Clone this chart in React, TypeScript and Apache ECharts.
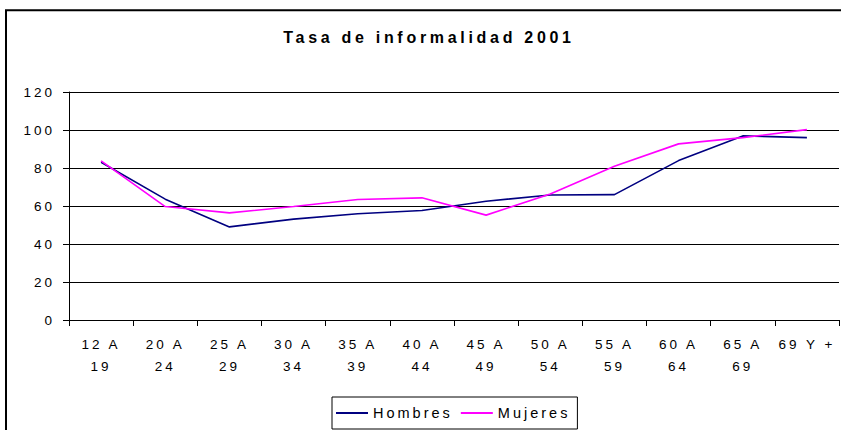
import React, { useEffect, useRef } from "react";
import * as echarts from "echarts";

const titleText = "Tasa de informalidad 2001";
const categories = [
  "12 A\n19",
  "20 A\n24",
  "25 A\n29",
  "30 A\n34",
  "35 A\n39",
  "40 A\n44",
  "45 A\n49",
  "50 A\n54",
  "55 A\n59",
  "60 A\n64",
  "65 A\n69",
  "69 Y +",
];
const hombres = [83.0, 63.6, 49.0, 53.1, 55.9, 57.6, 62.5, 65.8, 66.0, 83.9, 96.9, 96.0];
const mujeres = [83.7, 59.7, 56.4, 59.7, 63.4, 64.3, 55.2, 66.3, 80.9, 92.7, 96.0, 100.2];
const seriesNames = ["Hombres", "Mujeres"];
const yMin = 0;
const yMax = 120;
const yInterval = 20;

const FONT = "Arial, 'Liberation Sans', sans-serif";

export default function App() {
  const ref = useRef<HTMLDivElement>(null);

  useEffect(() => {
    document.body.style.margin = "0";
    if (!ref.current) return;
    const chart = echarts.init(ref.current, undefined, { renderer: "svg" });
    chart.setOption({
      animation: false,
      backgroundColor: "#fff",
      textStyle: { fontFamily: FONT, color: "#000" },
      title: {
        text: titleText,
        left: 424,
        top: 24,
        textAlign: "center",
        textStyle: { fontFamily: FONT, fontSize: 16, fontWeight: "bold", color: "#000" },
      },
      graphic: [
        {
          type: "rect",
          z: -10,
          silent: true,
          shape: { x: 6, y: 10.25, width: 900, height: 500 },
          style: { fill: "none", stroke: "#000", lineWidth: 2 },
        },
      ],
      legend: {
        data: seriesNames,
        left: 332,
        top: 397,
        orient: "horizontal",
        icon: "rect",
        itemWidth: 32,
        itemHeight: 2,
        itemGap: 29,
        padding: [8.5, 28, 8.5, 4],
        borderColor: "#000",
        borderWidth: 1,
        textStyle: { fontFamily: FONT, fontSize: 14.5, color: "#000" },
      },
      grid: { left: 69, right: 2, top: 92, bottom: 110, containLabel: false },
      xAxis: {
        type: "category",
        data: categories,
        boundaryGap: true,
        axisLine: { show: true, lineStyle: { color: "#000", width: 1 } },
        axisTick: { show: true, length: 6, inside: false, lineStyle: { color: "#000" } },
        axisLabel: {
          interval: 0,
          margin: 13,
          fontFamily: FONT,
          fontSize: 13.5,
          lineHeight: 22,
          color: "#000",
        },
        splitLine: { show: false },
      },
      yAxis: {
        type: "value",
        min: yMin,
        max: yMax,
        interval: yInterval,
        axisLine: { show: true, lineStyle: { color: "#000", width: 1 } },
        axisTick: { show: true, length: 6, inside: false, lineStyle: { color: "#000" } },
        axisLabel: { margin: 14, fontFamily: FONT, fontSize: 13.5, color: "#000" },
        splitLine: { show: true, lineStyle: { color: "#000", width: 1 } },
      },
      series: [
        {
          name: seriesNames[0],
          type: "line",
          data: hombres,
          symbol: "none",
          itemStyle: { color: "#000080" },
          lineStyle: { color: "#000080", width: 1.6 },
        },
        {
          name: seriesNames[1],
          type: "line",
          data: mujeres,
          symbol: "none",
          itemStyle: { color: "#FF00FF" },
          lineStyle: { color: "#FF00FF", width: 1.6 },
        },
      ],
    });
    return () => chart.dispose();
  }, []);

  return (
    <>
      <style>{`.chartbox text { letter-spacing: 3px; } .chartbox text[style*="bold"] { letter-spacing: 3.7px; }`}</style>
      <div className="chartbox" ref={ref} style={{ width: 841, height: 430, letterSpacing: "3px" }} />
    </>
  );
}
